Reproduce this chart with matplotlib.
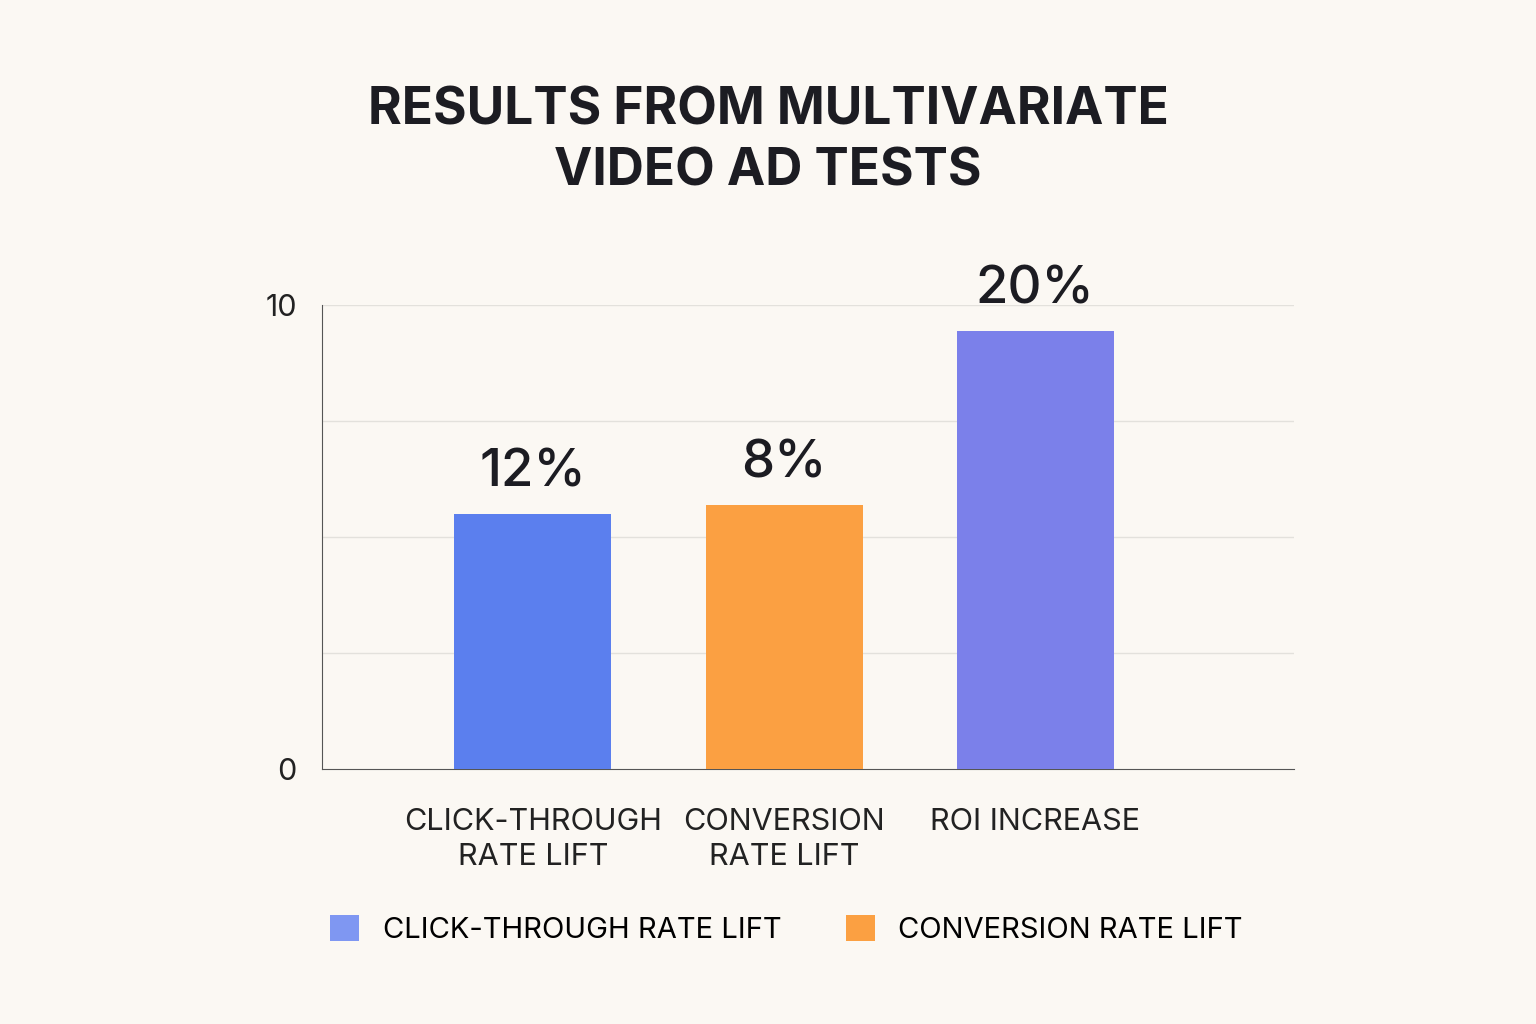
import matplotlib
matplotlib.use("Agg")
import matplotlib.pyplot as plt
from matplotlib.patches import Patch

categories = ["CLICK-THROUGH\nRATE LIFT", "CONVERSION\nRATE LIFT", "ROI INCREASE"]
values = [5.5, 5.7, 9.45]
bar_labels = ["12%", "8%", "20%"]
colors = ["#5B7FEE", "#FBA042", "#7B80EA"]
yticks = [0, 10]
legend_labels = ["CLICK-THROUGH RATE LIFT", "CONVERSION RATE LIFT"]
legend_colors = ["#7F97F2", "#FBA042"]

bg = "#FBF8F3"
fig = plt.figure(figsize=(15.36, 10.24), dpi=100, facecolor=bg)
ax = fig.add_axes([0.2096, 0.249, 0.6328, 0.453], facecolor=bg)
plt.rcParams["font.family"] = "Inter"

x = list(range(len(categories)))
ax.bar(x, values, width=0.625, color=colors, zorder=3)
for xi, v, lab in zip(x, values, bar_labels):
    ax.text(xi, v + 0.35, lab, ha="center", va="bottom", fontsize=38,
            fontweight="medium", color="#1c1c22", family="Inter")
ax.set_xlim(-0.84, 3.03)
ax.set_ylim(0, 10)
ax.set_yticks(yticks)
ax.set_yticklabels([str(t) for t in yticks], fontsize=22, color="#222", family="Inter")
for g in [2.5, 5, 7.5, 10]:
    ax.axhline(g, color="#E3E1DC", lw=1, zorder=1)
ax.set_xticks(x)
ax.set_xticklabels(categories, fontsize=22, color="#222", family="Inter", linespacing=1.3)
ax.tick_params(axis="x", length=0, pad=28)
ax.tick_params(axis="y", length=0, pad=18)
for s in ["top", "right"]:
    ax.spines[s].set_visible(False)
ax.spines["left"].set_color("#555")
ax.spines["bottom"].set_color("#555")

fig.text(0.5, 0.862, "RESULTS FROM MULTIVARIATE\nVIDEO AD TESTS", ha="center", va="center",
         fontsize=37, fontweight="bold", color="#1c1c22", family="Inter", linespacing=1.3)

handles = [Patch(facecolor=c, label=l) for c, l in zip(legend_colors, legend_labels)]
fig.legend(handles=handles, loc="center", bbox_to_anchor=(0.512, 0.092), ncol=2,
           frameon=False, fontsize=21, handlelength=1.0, handleheight=1.0,
           columnspacing=2.2, prop={"family": "Inter", "size": 21})
fig.savefig("out.png", dpi=100, facecolor=bg)
